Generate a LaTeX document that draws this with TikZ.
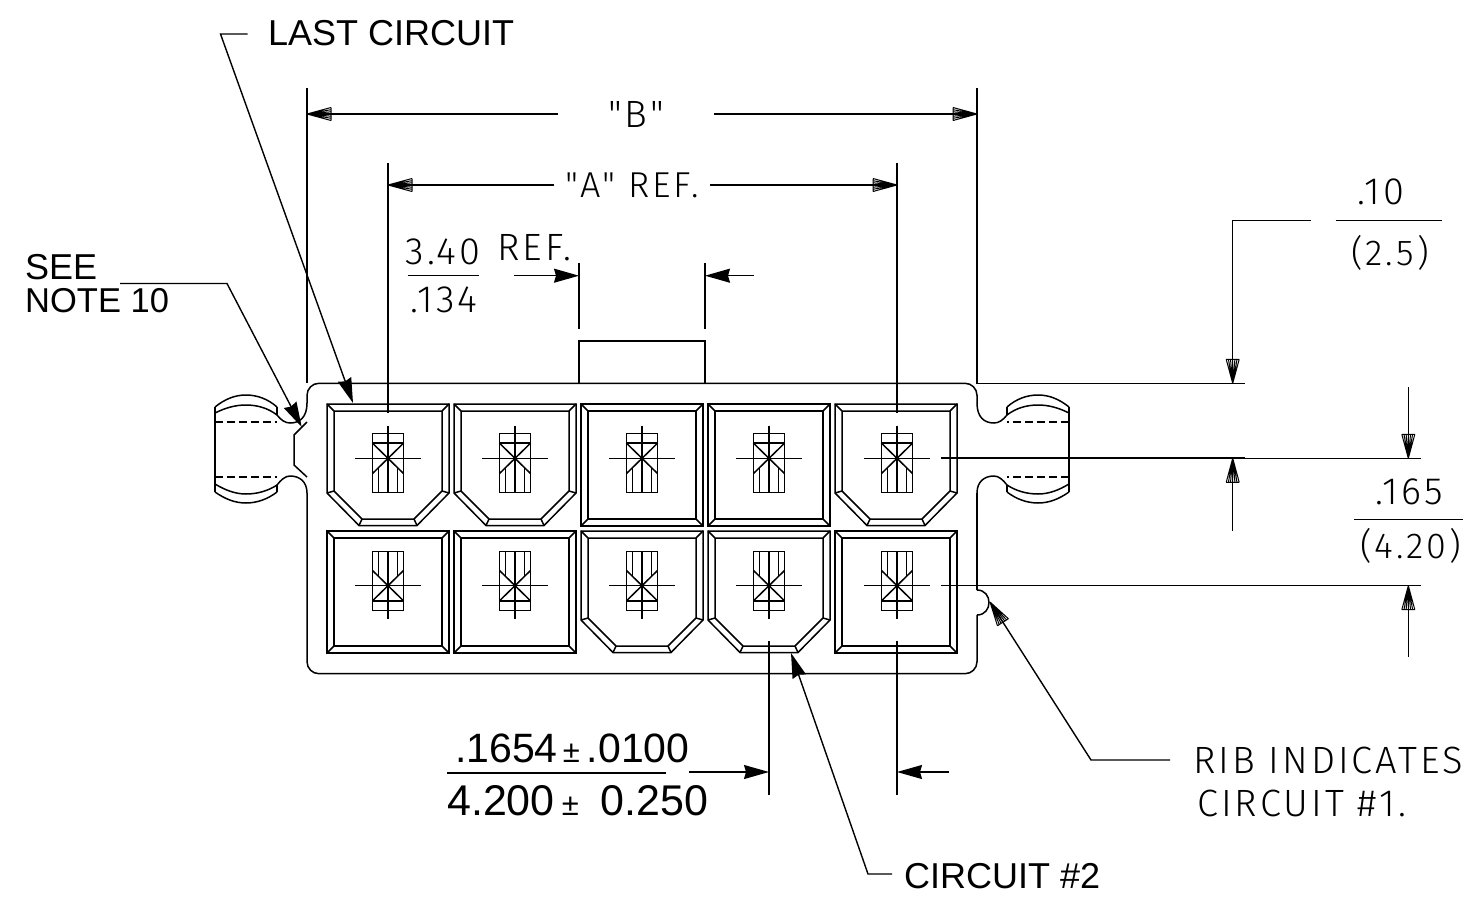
\documentclass[tikz,border=0pt]{standalone}
\usepackage{fontspec}
\setmainfont{Liberation Sans}
\newfontfamily\cadfont{Fira Sans Light}[LetterSpace=8]
\usetikzlibrary{arrows.meta}

\def\fanline#1{\pgfpathmoveto{\pgfqpoint{-24pt}{#1pt}}\pgfpathlineto{\pgfpointorigin}}
\pgfdeclarearrow{
  name = Fan,
  setup code = {
    \pgfarrowssettipend{0pt}
    \pgfarrowssetlineend{-4pt}
    \pgfarrowssetvisualbackend{-24pt}
    \pgfarrowssetbackend{-24pt}
    \pgfarrowshullpoint{0pt}{0pt}
    \pgfarrowshullpoint{-24pt}{6.5pt}
    \pgfarrowshullpoint{-24pt}{-6.5pt}
  },
  drawing code = {
    \pgfsetlinewidth{1pt}
    \pgfsetdash{}{0pt}
    \fanline{-6.5}\fanline{-4.3}\fanline{-2.2}\fanline{0}\fanline{2.2}\fanline{4.3}\fanline{6.5}
    \pgfpathmoveto{\pgfqpoint{-24pt}{-6.5pt}}
    \pgfpathlineto{\pgfqpoint{-24pt}{6.5pt}}
    \pgfusepathqstroke
  }
}

\newcommand{\squarecavity}[2]{
  \begin{scope}[shift={(#1,#2)}]
    \draw[part] (0,0) -- (122,0) -- (122,122) -- (0,122) -- cycle;
    \draw[part] (7,7) -- (115,7) -- (115,115) -- (7,115) -- cycle;
    \draw[part] (0,0) -- (7,7) (122,0) -- (115,7) (0,122) -- (7,115) (122,122) -- (115,115);
  \end{scope}
}
\newcommand{\chamfercavity}[2]{
  \begin{scope}[shift={(#1,#2)}]
    \draw[part] (0,0) -- (122,0) -- (122,89) -- (90,121.5) -- (32,121.5) -- (0,89) -- cycle;
    \draw[part] (7,7) -- (115,7) -- (115,87) -- (87,115) -- (35,115) -- (7,87) -- cycle;
    \draw[part] (0,0) -- (7,7) (122,0) -- (115,7) (0,89) -- (7,87) (122,89) -- (115,87)
      (32,121.5) -- (35,115) (90,121.5) -- (87,115);
  \end{scope}
}
\newcommand{\pinmark}[3]{
  \begin{scope}[shift={(#1,#2)},yscale=#3]
    \draw[part] (-15.5,-25) -- (15.5,-25) -- (15.5,34) -- (-15.5,34) -- cycle;
    \draw[part] (-15.5,-15.3) -- (15.5,-15.3);
    \draw[part] (-15.5,-15.3) -- (15.5,15) (15.5,-15.3) -- (-15.5,15);
    \draw[part] (-9.3,9.3) -- (-9.3,34) (9.3,9.3) -- (9.3,34);
    \draw[part] (0,-33) -- (0,34);
    \draw[part] (-33,0) -- (33,0);
    \fill (0,0) circle[radius=2pt];
  \end{scope}
}
\newcommand{\eartab}{
  \draw[part] (215,407) -- (215,492);
  \draw[part] (277,407) -- (277,415) (277,485) -- (277,492);
  \draw[part] (215,407) .. controls (225,399) and (235,395) .. (246,395) .. controls (257,395) and (268,399) .. (277,407);
  \draw[part] (215,413) .. controls (225,408) and (235,405) .. (246,405) .. controls (257,405) and (268,408) .. (277,415);
  \draw[part] (215,492) .. controls (225,499) and (235,503) .. (246,503) .. controls (257,503) and (268,499) .. (277,492);
  \draw[part] (215,484) .. controls (225,490) and (235,494) .. (246,494) .. controls (257,494) and (268,491) .. (277,485);
  \draw[part,dash pattern=on 8pt off 4pt] (215,422) -- (277,422);
  \draw[part,dash pattern=on 8pt off 4pt] (215,477) -- (277,477);
  \draw[part] (307,403) .. controls (307,417) and (300,423) .. (290,423) .. controls (285,423) and (281,420) .. (277,415);
  \draw[part] (307,493) .. controls (307,482) and (300,476) .. (290,476) .. controls (285,476) and (281,480) .. (277,485);
}

\begin{document}
\begin{tikzpicture}[x=1pt,y=-1pt]
  \tikzstyle{part} = [line width=1.5pt]
  \tikzstyle{thinline} = [line width=1.4pt]
  \tikzstyle{fandim} = [thinline, -Fan]
  \tikzstyle{blackdim} = [thinline, -{Stealth[length=25pt,width=14pt,inset=2pt]}]
  \tikzstyle{cadtext} = [font=\cadfont\fontsize{38}{38}\selectfont, inner xsep=0pt, inner ysep=0pt]
  \tikzstyle{hvtext} = [font=\fontsize{36}{36}\selectfont, inner sep=0pt]
  \useasboundingbox (0,0) rectangle (1479,899);

  % body
  \draw[part,rounded corners=12pt] (977,403) -- (977,383.3) -- (307,383.3) -- (307,403);
  \draw[part] (307,422) -- (294,435) -- (294,465) -- (307,477);
  \draw[part,rounded corners=12pt] (307,493) -- (307,673.7) -- (977,673.7) -- (977,615);
  \draw[part] (977,590) -- (977,493);
  \draw[part] (977,590) .. controls (993,590) and (993,615) .. (977,615);
  \draw[part] (579,383.3) -- (579,341) -- (705,341) -- (705,383.3);
  \eartab
  \begin{scope}[xshift=1284pt,xscale=-1]
    \eartab
  \end{scope}

  % cavities
  \foreach \x in {327,454,835} {\chamfercavity{\x}{404} \squarecavity{\x}{531}}
  \foreach \x in {581,708} {\squarecavity{\x}{404} \chamfercavity{\x}{531}}
  \foreach \x in {388,515,642,769,897} {\pinmark{\x}{458.5}{1} \pinmark{\x}{585.5}{-1}}

  % extension lines
  \coordinate (extBl) at (307,88);
  \coordinate (extBr) at (977,88);
  \coordinate (extAl) at (388,163);
  \coordinate (extAr) at (897,163);
  \coordinate (extRl) at (579,263);
  \coordinate (extRr) at (705,263);
  \coordinate (extPl) at (769,641);
  \coordinate (extPr) at (897,641);
  \coordinate (topEnd) at (1245,383.3);
  \draw[thinline] (extBl) -- (307,383.3);
  \draw[thinline] (extBr) -- (977,383.3) -- (topEnd);
  \draw[thinline] (extAl) -- (388,413.3);
  \draw[thinline] (extAr) -- (897,413.3);
  \draw[thinline] (extRl) -- (579,329);
  \draw[thinline] (extRr) -- (705,329);
  \draw[thinline] (extPl) -- (769,795);
  \draw[thinline] (extPr) -- (897,795);
  \draw[line width=2pt] (941,458.3) -- (1245,458.3);
  \draw[thinline] (1245,458.3) -- (1421,458.3);
  \draw[thinline] (941,585.7) -- (1421,585.7);

  % "B" and "A"
  \node[cadtext,inner xsep=50pt] (dimB) at (636,114) {"B"};
  \draw[fandim] (dimB.west) -- (extBl |- dimB);
  \draw[fandim] (dimB.east) -- (extBr |- dimB);
  \node[cadtext,font=\cadfont\fontsize{36}{36}\selectfont,inner xsep=11pt] (dimA) at (632,185) {"A" REF.};
  \draw[fandim] (dimA.west) -- (extAl |- dimA);
  \draw[fandim] (dimA.east) -- (extAr |- dimA);

  % 3.40
  \node[cadtext,anchor=base] (refTop) at (443,264) {3.40};
  \node[cadtext,anchor=base] (refBot) at (444,312.5) {.134};
  \node[cadtext,anchor=base west] (refWord) at (497,260) {REF.};
  \coordinate (refL) at (514,275.7);
  \coordinate (refR) at (754,275.7);
  \draw[thinline] (407.7,275.7) -- (479,275.7);
  \draw[blackdim] (refL) -- (extRl |- refL);
  \draw[blackdim] (refR) -- (extRr |- refR);

  % .10
  \node[cadtext,anchor=base] (tenTop) at (1381,204) {.10};
  \node[cadtext,font=\cadfont\fontsize{36}{36}\selectfont,anchor=base] (tenBot) at (1390,265) {(2.5)};
  \coordinate (tenStart) at (1310.7,220.7);
  \coordinate (tenCorner) at (1232.7,220.7);
  \draw[thinline] (1335.7,220.7) -- (1442.3,220.7);
  \draw[fandim] (tenStart) -- (tenCorner) -- (tenCorner |- topEnd);

  % .165
  \node[cadtext,anchor=base] (pitchTop) at (1409,504) {.165};
  \node[cadtext,font=\cadfont\fontsize{36}{36}\selectfont,anchor=base] (pitchBot) at (1411,558) {(4.20)};
  \draw[thinline] (1354,519.7) -- (1463.3,519.7);
  \coordinate (pitchA) at (1408.3,387);
  \coordinate (pitchB) at (1232.7,531);
  \coordinate (pitchC) at (1408.3,657);
  \draw[fandim] (pitchA) -- (1408.3,458.3);
  \draw[fandim] (pitchB) -- (1232.7,458.3);
  \draw[fandim] (pitchC) -- (1408.3,585.7);

  % rib
  \node[cadtext,anchor=base west] (ribOne) at (1193,773) {RIB INDICATES};
  \node[cadtext,anchor=base west] (ribTwo) at (1197,816) {CIRCUIT \#1.};
  \coordinate (ribStart) at (1170,760);
  \coordinate (ribCorner) at (1091,760);
  \coordinate (ribTip) at (990,602);
  \draw[fandim] (ribStart) -- (ribCorner) -- (ribTip);

  % leaders
  \node[hvtext,anchor=base west] (lastText) at (268,46) {LAST CIRCUIT};
  \coordinate (lastStart) at (247.5,34);
  \coordinate (lastCorner) at (220.5,34);
  \coordinate (lastTip) at (353,403);
  \draw[blackdim] (lastStart) -- (lastCorner) -- (lastTip);
  \node[hvtext,anchor=base west] (seeText) at (25,279.5) {SEE};
  \node[hvtext,font=\fontsize{34.5}{34.5}\selectfont,anchor=base west] (noteText) at (25,312.7) {NOTE 10};
  \coordinate (noteStart) at (120,283.5);
  \coordinate (noteCorner) at (227,283.5);
  \coordinate (noteTip) at (301.7,427);
  \draw[blackdim] (noteStart) -- (noteCorner) -- (noteTip);
  \node[hvtext,anchor=base west] (twoText) at (904,888) {CIRCUIT \#2};
  \coordinate (twoStart) at (892,874);
  \coordinate (twoCorner) at (868,874);
  \coordinate (twoTip) at (791,653);
  \draw[blackdim] (twoStart) -- (twoCorner) -- (twoTip);

  % .1654
  \node[hvtext,font=\fontsize{41}{41}\selectfont,anchor=base west] (tolTop) at (455,762) {.1654\hspace{5pt}{\fontsize{31}{31}\selectfont ±}\hspace{7pt}.0100};
  \node[hvtext,font=\fontsize{43}{43}\selectfont,anchor=base west] (tolBot) at (447,815) {4.200\hspace{7pt}{\fontsize{31}{31}\selectfont ±}\hspace{22pt}0.250};
  \coordinate (tolL) at (689,772);
  \coordinate (tolR) at (949,772);
  \draw[thinline] (447,773) -- (666,773);
  \draw[blackdim] (tolL) -- (extPl |- tolL);
  \draw[blackdim] (tolR) -- (extPr |- tolR);
\end{tikzpicture}
\end{document}
